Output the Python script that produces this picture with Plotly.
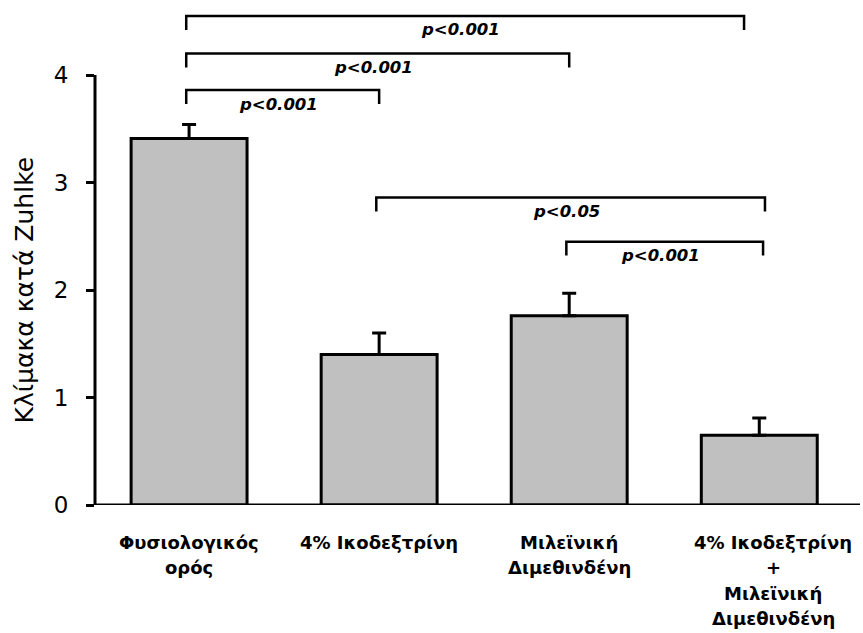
import plotly.graph_objects as go

categories = ["Φυσιολογικός<br>ορός", "4% Ικοδεξτρίνη", "Μιλεϊνική<br>Διμεθινδένη",
              "4% Ικοδεξτρίνη<br>+<br>Μιλεϊνική<br>Διμεθινδένη"]
means = [3.41, 1.40, 1.76, 0.65]
errors = [0.13, 0.20, 0.21, 0.16]
y_ticks = [0, 1, 2, 3, 4]

# significance brackets: (left x, right x, bracket height, label)
bracket_left = [0, 0, 0, 1, 2]
bracket_right = [1, 2, 2.92, 3.03, 3.02]
bracket_height = [3.86, 4.20, 4.55, 2.86, 2.45]
bracket_label = ["p<0.001", "p<0.001", "p<0.001", "p<0.05", "p<0.001"]

FONT = "DejaVu Sans, Liberation Sans, Arial, sans-serif"
xs = list(range(len(categories)))
label_xshift = [0, 0, 0, 14]

fig = go.Figure()
fig.add_trace(go.Bar(
    x=xs, y=means, width=0.61,
    marker=dict(color="#c0c0c0", line=dict(color="black", width=3)),
    error_y=dict(type="data", array=errors, arrayminus=[0] * len(errors),
                 symmetric=False, color="black", thickness=3, width=7),
    showlegend=False, hoverinfo="skip",
))

shapes = []
annotations = []
drop = 0.13
for l, r, h, lab in zip(bracket_left, bracket_right, bracket_height, bracket_label):
    shapes.append(dict(type="path", xref="x", yref="y",
                       path=f"M {l-0.015} {h-drop} L {l-0.015} {h} L {r} {h} L {r} {h-drop}",
                       line=dict(color="black", width=2.5)))
    annotations.append(dict(x=(l + r) / 2 - 0.03, y=h, xref="x", yref="y",
                            text=f"<b><i>{lab}</i></b>", showarrow=False,
                            yanchor="middle", yshift=-14,
                            font=dict(family=FONT, size=16.5, color="black")))

# y axis line only from 0 to 4
shapes.append(dict(type="line", xref="paper", yref="y", x0=0, x1=0, y0=0, y1=4,
                   line=dict(color="black", width=3)))
shapes.append(dict(type="line", xref="paper", yref="y", x0=0, x1=1, y0=0, y1=0,
                   line=dict(color="black", width=3)))

# category labels, line by line
line_gap = 25.5
for i, cat in enumerate(categories):
    for j, part in enumerate(cat.split("<br>")):
        annotations.append(dict(x=i, y=0, xref="x", yref="y",
                                text=f"<b>{part}</b>", showarrow=False,
                                yanchor="middle", xshift=label_xshift[i],
                                yshift=-37 - j * line_gap,
                                font=dict(family=FONT, size=18, color="black")))

annotations.append(dict(x=0, y=2, xref="paper", yref="y", xshift=-87,
                        text="Κλίμακα κατά Zuhlke", showarrow=False, textangle=-90,
                        font=dict(family=FONT, size=25, color="black")))

fig.update_layout(
    width=863, height=633,
    margin=dict(l=95, r=3, t=0, b=128),
    plot_bgcolor="white", paper_bgcolor="white",
    shapes=shapes, annotations=annotations,
    xaxis=dict(range=[-0.495, 3.53], showticklabels=False, showgrid=False,
               zeroline=False, showline=False, ticks=""),
    yaxis=dict(range=[0, 4.698], tickvals=y_ticks, ticktext=[str(v) for v in y_ticks],
               showgrid=False, zeroline=False, showline=False,
               ticks="outside", ticklen=8, tickwidth=3, tickcolor="black",
               ticklabelstandoff=13,
               tickfont=dict(family=FONT, size=23, color="black")),
    font=dict(family=FONT),
)

fig.write_html("out.html", config={"displayModeBar": False},
               post_script="document.body.style.margin='0';")
